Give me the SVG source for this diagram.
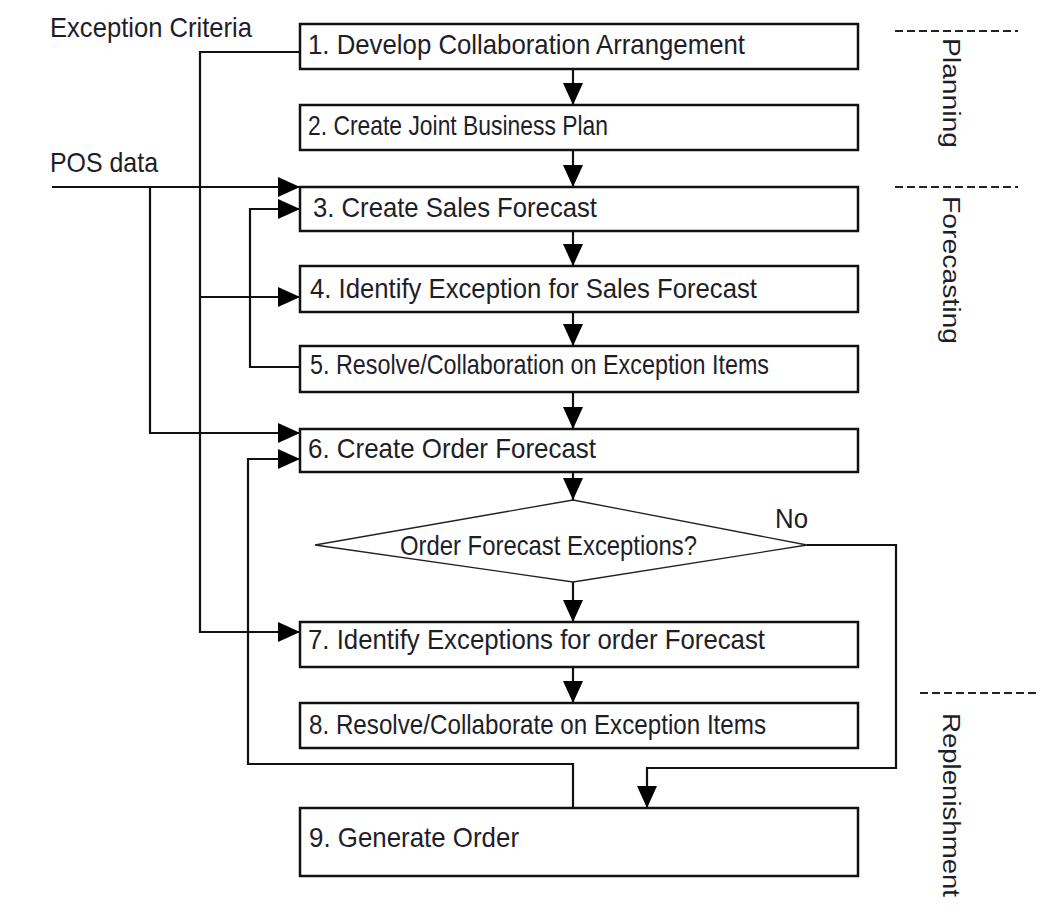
<svg xmlns="http://www.w3.org/2000/svg" width="1040" height="918" viewBox="0 0 1040 918">
<defs>
<style>
.box{fill:#fff;stroke:#111;stroke-width:2.5}
.dia{fill:#fff;stroke:#222;stroke-width:1.3}
.t{font-family:"Liberation Sans",Arial,sans-serif;font-size:28px;fill:#1e1e28}
.r{font-family:"Liberation Sans",Arial,sans-serif;font-size:23px;fill:#1e1e28}
.c{fill:none;stroke:#111;stroke-width:2.2}
.d{fill:none;stroke:#222;stroke-width:2;stroke-dasharray:8,4}
</style>
<marker id="ah" viewBox="0 0 22 20" refX="22" refY="10" markerWidth="22" markerHeight="20" markerUnits="userSpaceOnUse" orient="auto"><path d="M0,0 L22,10 L0,20 z" fill="#000"/></marker>
</defs>
<rect width="1040" height="918" fill="#fff"/>

<g id="connectors">
<path class="c" d="M573,69 V105" marker-end="url(#ah)"/>
<path class="c" d="M573,150 V187" marker-end="url(#ah)"/>
<path class="c" d="M573,231 V266" marker-end="url(#ah)"/>
<path class="c" d="M573,312 V346" marker-end="url(#ah)"/>
<path class="c" d="M573,392 V429" marker-end="url(#ah)"/>
<path class="c" d="M573,472 V500" marker-end="url(#ah)"/>
<path class="c" d="M573,582 V622" marker-end="url(#ah)"/>
<path class="c" d="M573,667 V703" marker-end="url(#ah)"/>
<path class="c" d="M300,52 H200 V632 H300" marker-end="url(#ah)"/>
<path class="c" d="M200,297 H300" marker-end="url(#ah)"/>
<path class="c" d="M52,187 H300" marker-end="url(#ah)"/>
<path class="c" d="M150,187 V433 H300" marker-end="url(#ah)"/>
<path class="c" d="M300,367 H250 V209 H300" marker-end="url(#ah)"/>
<path class="c" d="M573,808 V764 H248 V459 H300" marker-end="url(#ah)"/>
<path class="c" d="M807,545 H896 V768 H647 V808" marker-end="url(#ah)"/>
</g>

<g id="n1"><rect class="box" x="300" y="24" width="558" height="45"/><text class="t" x="308" y="54" textLength="437" lengthAdjust="spacingAndGlyphs">1. Develop Collaboration Arrangement</text></g>
<g id="n2"><rect class="box" x="300" y="105" width="558" height="45"/><text class="t" x="308" y="135" textLength="300" lengthAdjust="spacingAndGlyphs">2. Create Joint Business Plan</text></g>
<g id="n3"><rect class="box" x="300" y="187" width="558" height="44"/><text class="t" x="313" y="217" textLength="284" lengthAdjust="spacingAndGlyphs">3. Create Sales Forecast</text></g>
<g id="n4"><rect class="box" x="300" y="266" width="558" height="46"/><text class="t" x="310" y="298" textLength="447" lengthAdjust="spacingAndGlyphs">4. Identify Exception for Sales Forecast</text></g>
<g id="n5"><rect class="box" x="300" y="346" width="558" height="46"/><text class="t" x="310" y="374" textLength="459" lengthAdjust="spacingAndGlyphs">5. Resolve/Collaboration on Exception Items</text></g>
<g id="n6"><rect class="box" x="300" y="429" width="558" height="43"/><text class="t" x="308" y="458" textLength="288" lengthAdjust="spacingAndGlyphs">6. Create Order Forecast</text></g>
<g id="dec"><polygon class="dia" points="573,500 807,545 573,582 315,545"/><text class="t" x="400" y="555" textLength="297" lengthAdjust="spacingAndGlyphs">Order Forecast Exceptions?</text></g>
<g id="n7"><rect class="box" x="300" y="622" width="558" height="45"/><text class="t" x="308" y="649" textLength="457" lengthAdjust="spacingAndGlyphs">7. Identify Exceptions for order Forecast</text></g>
<g id="n8"><rect class="box" x="300" y="703" width="558" height="45"/><text class="t" x="309" y="734" textLength="457" lengthAdjust="spacingAndGlyphs">8. Resolve/Collaborate on Exception Items</text></g>
<g id="n9"><rect class="box" x="300" y="808" width="558" height="68"/><text class="t" x="309" y="847" textLength="210" lengthAdjust="spacingAndGlyphs">9. Generate Order</text></g>

<g id="labels">
<text class="t" x="50" y="37" textLength="202" lengthAdjust="spacingAndGlyphs">Exception Criteria</text>
<text class="t" x="50" y="172" textLength="108" lengthAdjust="spacingAndGlyphs">POS data</text>
<text class="t" x="775" y="528" textLength="33" lengthAdjust="spacingAndGlyphs">No</text>
</g>

<g id="phases">
<path class="d" d="M895,31 H1018"/>
<path class="d" d="M895,187 H1018"/>
<path class="d" d="M920,693 H1040"/>
<text class="r" transform="translate(943,38) rotate(90)" textLength="110" lengthAdjust="spacingAndGlyphs">Planning</text>
<text class="r" transform="translate(943,196) rotate(90)" textLength="148" lengthAdjust="spacingAndGlyphs">Forecasting</text>
<text class="r" transform="translate(943,713) rotate(90)" textLength="184" lengthAdjust="spacingAndGlyphs">Replenishment</text>
</g>
</svg>
